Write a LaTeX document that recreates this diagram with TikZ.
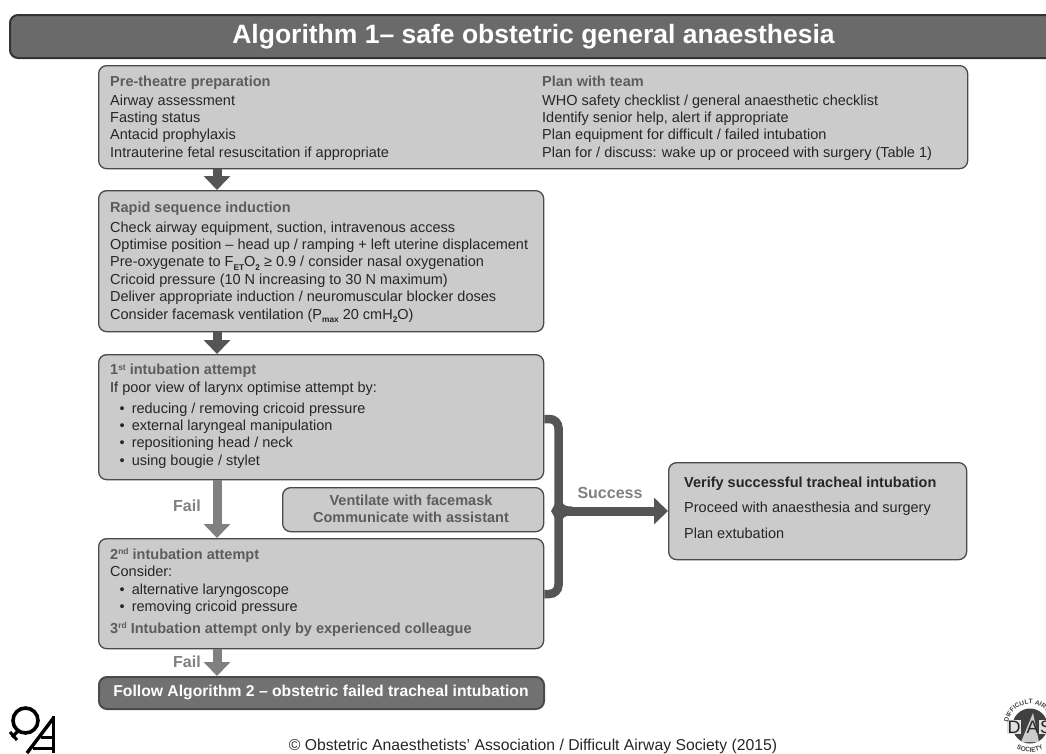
\documentclass[tikz,border=0pt]{standalone}
\usepackage{fontspec}
\setmainfont{Liberation Sans}
\usetikzlibrary{arrows.meta,positioning,decorations.text}
\definecolor{boxfill}{HTML}{CBCBCB}
\definecolor{boxedge}{HTML}{4A4A4A}
\definecolor{headtxt}{HTML}{5C5C5C}
\definecolor{bodytxt}{HTML}{262626}
\definecolor{darkarrow}{HTML}{555555}
\definecolor{midarrow}{HTML}{808080}
\definecolor{titlefill}{HTML}{6A6A6A}
\definecolor{followfill}{HTML}{717171}
\newcommand{\hd}[1]{{\bfseries\color{headtxt}#1}}
\newcommand{\sbs}[1]{\raisebox{-3.2pt}{\fontsize{8.3}{8}\selectfont\bfseries #1}}
\newcommand{\sps}[1]{\raisebox{4.6pt}{\fontsize{8.5}{8}\selectfont\bfseries #1}}
\newcommand{\blt}{\hspace*{9.5pt}•\hspace*{7pt}}
\tikzset{
  x=1pt,y=-1pt,
  boxnode/.style={draw=boxedge,fill=boxfill,line width=1.3pt,rounded corners=8pt,inner sep=0pt,anchor=north west},
  txt/.style={anchor=north west,inner sep=0pt,align=left,font=\fontsize{14.5}{17.4}\selectfont,text=bodytxt},
  lbl/.style={inner sep=0pt,font=\fontsize{16}{18}\selectfont\bfseries,text=midarrow},
  darrow/.style={draw=darkarrow,line width=9pt,-{Triangle[width=26pt,length=14pt,color=darkarrow]}},
  marrow/.style={draw=midarrow,line width=9pt,-{Triangle[width=26pt,length=14pt,color=midarrow]}},
  dasletter/.style={inner sep=0.6pt,text=black!85,font=\fontsize{18}{20}\selectfont},
}
\begin{document}
\begin{tikzpicture}
\useasboundingbox (0,0) rectangle (1046,753);
\clip (0,0) rectangle (1046,753);
% title
\node[boxnode,draw=black!80,line width=2pt,fill=titlefill,minimum width=1060pt,minimum height=43pt] (title) at (9,14) {};
\node[inner sep=0pt,text=white,font=\fontsize{26.5}{30}\selectfont\bfseries] (titletxt) at (533.5,37) {Algorithm 1– safe obstetric general anaesthesia};
% boxes
\node[boxnode,minimum width=869pt,minimum height=103pt] (b1) at (98,65) {};
\node[boxnode,minimum width=445pt,minimum height=141pt] (b2) at (98,190) {};
\node[boxnode,minimum width=445pt,minimum height=125pt] (b3) at (98,354) {};
\node[boxnode,minimum width=261pt,minimum height=44pt] (vent) at (282,487) {};
\node[boxnode,minimum width=445pt,minimum height=110pt] (b4) at (98,538) {};
\node[boxnode,fill=followfill,line width=2pt,minimum width=445pt,minimum height=32pt] (follow) at (98,676) {};
\node[boxnode,minimum width=298pt,minimum height=97pt] (verify) at (668,462) {};
% texts
\node[txt] (t1a) at (110,75.5) {\hd{Pre-theatre preparation}\\[1.5pt]Airway assessment\\Fasting status\\Antacid prophylaxis\\Intrauterine fetal resuscitation if appropriate};
\node[txt] (t1b) at (542,75.5) {\hd{Plan with team}\\[1.5pt]WHO safety checklist / general anaesthetic checklist\\Identify senior help, alert if appropriate\\Plan equipment for difficult / failed intubation\\Plan for / discuss: wake up or proceed with surgery (Table 1)};
\node[txt] (t2) at (110,201.5) {\hd{Rapid sequence induction}\\[2.5pt]Check airway equipment, suction, intravenous access\\Optimise position – head up / ramping + left uterine displacement\\Pre-oxygenate to F\sbs{ET}O\sbs{2} ≥ 0.9 / consider nasal oxygenation\\Cricoid pressure (10 N increasing to 30 N maximum)\\Deliver appropriate induction / neuromuscular blocker doses\\Consider facemask ventilation (P\sbs{max} 20 cmH\sbs{2}O)};
\node[txt] (t3) at (110,364) {\hd{1\sps{st} intubation attempt}\\If poor view of larynx optimise attempt by:\\[3.5pt]\blt reducing / removing cricoid pressure\\\blt external laryngeal manipulation\\\blt repositioning head / neck\\\blt using bougie / stylet};
\node[txt,align=center,anchor=center] (tv) at (411,509) {\hd{Ventilate with facemask}\\\hd{Communicate with assistant}};
\node[txt] (t4) at (110,548.5) {\hd{2\sps{nd} intubation attempt}\\Consider:\\\blt alternative laryngoscope\\\blt removing cricoid pressure\\[4pt]\hd{3\sps{rd} Intubation attempt only by experienced colleague}};
\node[inner sep=0pt,text=white,font=\fontsize{15.7}{17}\selectfont\bfseries] (tf) at (321,692) {Follow Algorithm 2 – obstetric failed tracheal intubation};
\node[txt,font=\fontsize{14.5}{25.5}\selectfont] (tverify) at (684,476.5) {\textbf{Verify successful tracheal intubation}\\Proceed with anaesthesia and surgery\\Plan extubation};
% connectors
\coordinate (ax) at (217,0);
\draw[darrow] (b1.south -| ax) -- (b2.north -| ax);
\draw[darrow] (b2.south -| ax) -- (b3.north -| ax);
\draw[marrow] (b3.south -| ax) -- (b4.north -| ax);
\draw[marrow] (b4.south -| ax) -- (follow.north -| ax);
\node[lbl] (fail1) at (187,506) {Fail};
\node[lbl] (fail2) at (187,662) {Fail};
\coordinate (ytop) at (0,419);
\coordinate (ybot) at (0,594);
\coordinate (xbr) at (558.5,0);
\draw[draw=darkarrow,line width=8.5pt,rounded corners=9pt] (ytop -| b3.east) -- (ytop -| xbr) -- (ybot -| xbr) -- (ybot -| b4.east);
\coordinate (jn) at (558,511);
\draw[darrow] (jn) -- (verify.west |- jn);
\fill[darkarrow] (562,499) .. controls (562,505) and (565,506.5) .. (572,506.5) -- (572,515.5) .. controls (565,515.5) and (562,517) .. (562,523) -- cycle;
\fill[darkarrow] (555,504) -- (551,511) -- (555,518) -- cycle;
\node[lbl] (succ) at (610,493) {Success};
% copyright
\node[inner sep=0pt,font=\fontsize{15.75}{17}\selectfont,text=bodytxt] (copy) at (533,746.5) {© Obstetric Anaesthetists’ Association / Difficult Airway Society (2015)};
% OAA logo
\draw[black,line width=3.6pt] (25.5,720.5) circle (12.5);
\draw[black,line width=3.2pt] (18,731) -- (12,737);
\draw[black,line width=3pt] (10,732) -- (17,740);
\draw[black,line width=3.4pt] (53.5,718) -- (27,753);
\draw[black,line width=3.4pt] (53.5,716) -- (53.5,753);
\draw[black,line width=3.4pt] (41,737.5) -- (53.5,737.5);
\draw[black,line width=3.4pt] (33,748.5) -- (53.5,748.5);
% DAS logo
\begin{scope}[shift={(1030,726)},x=1pt,y=1pt]
\fill[black!75] (0,0) circle (17.5);
\fill[white!80!black] (3,13) -- (-9,-16) -- (9,-16) -- cycle;
\node[dasletter,fill=white!88!black] (dasd) at (-16,-1) {D};
\node[dasletter] (dasa) at (2.5,-1) {A};
\node[dasletter,fill=white!88!black] (dass) at (16,-1) {S};
\path[postaction={decorate,decoration={text along path,text align=center,text={|\fontsize{6.5}{8}\selectfont\bfseries\color{black!75}|DIFFICULT AIRWAY}}}] (195:22) arc[start angle=195,end angle=-15,radius=22];
\path[postaction={decorate,decoration={text along path,text align=center,text={|\fontsize{6.5}{8}\selectfont\bfseries\color{black!75}|SOCIETY}}}] (215:26) arc[start angle=215,end angle=325,radius=26];
\end{scope}
\end{tikzpicture}
\end{document}
